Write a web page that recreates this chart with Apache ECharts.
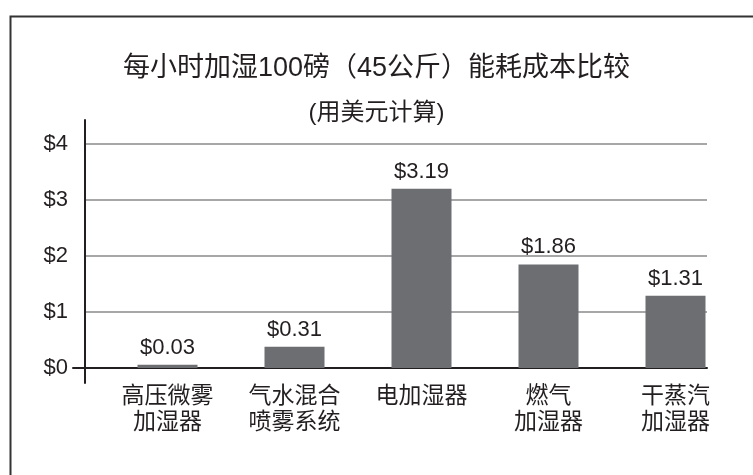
<!DOCTYPE html>
<html>
<head>
<meta charset="utf-8">
<script src="https://cdn.jsdelivr.net/npm/echarts@6/dist/echarts.min.js"></script>
<style>
html,body{margin:0;padding:0;background:#fff;}
#chart{width:753px;height:475px;}
</style>
</head>
<body>
<div id="chart"></div>
<script>
// Data
const categories = ['高压微雾\n加湿器', '气水混合\n喷雾系统', '电加湿器', '燃气\n加湿器', '干蒸汽\n加湿器'];
const costLabels = [0.03, 0.31, 3.19, 1.86, 1.31];       // printed values
const barHeights = [0.06, 0.38, 3.20, 1.85, 1.29];       // bar heights as drawn
const yTicks = [0, 1, 2, 3, 4];
const titleText = '每小时加湿100磅（45公斤）能耗成本比较';
const subtitleText = '(用美元计算)';

const TXT = '#231f20';
const LATIN = '"Liberation Sans", Arial, "Noto Sans CJK SC", sans-serif';
const CJK = '"Liberation Sans", "Noto Sans CJK SC", sans-serif';

const chart = echarts.init(document.getElementById('chart'), null, {renderer: 'canvas'});

const plotTop = 144, plotH = 224;

chart.setOption({
  animation: false,
  backgroundColor: '#fff',
  title: [
    {text: titleText, left: 'center', top: 50,
     textStyle: {fontFamily: CJK, fontSize: 27, fontWeight: 'normal', color: TXT}},
    {text: subtitleText, left: 'center', top: 96,
     textStyle: {fontFamily: CJK, fontSize: 24, fontWeight: 'normal', color: TXT}}
  ],
  graphic: [
    {type: 'rect', left: 8, top: 14, shape: {x: 0, y: 0, width: 800, height: 520},
     style: {fill: 'none', stroke: '#333', lineWidth: 2}, z: 100}
  ],
  grid: [
    {left: 85, right: 46, top: plotTop, height: plotH},   // gridlines + y labels
    {left: 104, right: 14, top: plotTop, height: plotH},  // bars
    {left: 73, right: 46, top: plotTop, height: plotH},   // zero baseline
    {left: 85, width: 1, top: 120, height: 263}           // y-axis line
  ],
  xAxis: [
    {gridIndex: 0, type: 'category', data: categories, show: false},
    {gridIndex: 1, type: 'category', data: categories,
     axisLine: {show: false}, axisTick: {show: false},
     axisLabel: {interval: 0, margin: 16, fontFamily: CJK, fontSize: 23, lineHeight: 26, color: TXT}},
    {gridIndex: 2, type: 'value', min: 0, max: 1, axisLabel: {show: false}, axisTick: {show: false},
     splitLine: {show: false}, axisLine: {show: true, lineStyle: {color: TXT, width: 2}}},
    {gridIndex: 3, type: 'value', min: 0, max: 1, show: false}
  ],
  yAxis: [
    {gridIndex: 0, type: 'value', min: yTicks[0], max: yTicks[yTicks.length - 1], interval: 1,
     axisLine: {show: false}, axisTick: {show: false},
     axisLabel: {margin: 17, fontFamily: LATIN, fontSize: 22, color: TXT, formatter: v => '$' + v},
     splitLine: {show: true, lineStyle: {color: '#8a8a8a', width: 1.5}}},
    {gridIndex: 1, type: 'value', min: yTicks[0], max: yTicks[yTicks.length - 1], show: false},
    {gridIndex: 2, type: 'value', min: 0, max: 1, show: false},
    {gridIndex: 3, type: 'value', min: 0, max: 1, axisLabel: {show: false}, axisTick: {show: false},
     splitLine: {show: false}, axisLine: {show: true, lineStyle: {color: TXT, width: 2}}}
  ],
  series: [
    {type: 'bar', xAxisIndex: 1, yAxisIndex: 1, data: barHeights, barWidth: 60,
     itemStyle: {color: '#6d6e71'},
     label: {show: true, position: 'top', distance: 6, fontFamily: LATIN, fontSize: 22, color: TXT,
             formatter: p => '$' + costLabels[p.dataIndex].toFixed(2)}}
  ]
});
</script>
</body>
</html>
